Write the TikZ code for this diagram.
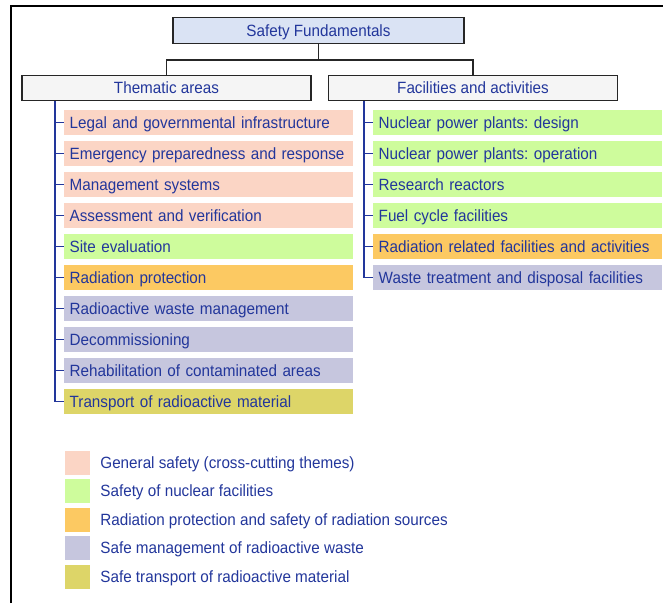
\documentclass[tikz,border=0pt]{standalone}
\usepackage{fontspec}
\setmainfont{Liberation Sans}[FakeStretch=0.935]
\usetikzlibrary{positioning}
\frenchspacing

\definecolor{sfblue}{RGB}{34,54,155}
\definecolor{general}{RGB}{251,213,197}
\definecolor{nuclear}{RGB}{206,252,156}
\definecolor{radprot}{RGB}{252,201,98}
\definecolor{waste}{RGB}{198,198,222}
\definecolor{transport}{RGB}{221,213,104}
\definecolor{topfill}{RGB}{218,227,244}

\tikzset{
  every node/.style={text height=13.6pt, text depth=2pt},
  head/.style={draw=black!85, line width=1.8pt, fill=gray!8, minimum width=289pt,
    minimum height=25pt, inner sep=0pt, text=sfblue},
  item/.style={anchor=west, inner xsep=5.5pt, inner ysep=0pt, text width=278pt,
    minimum height=25pt, align=left, text=sfblue},
  key/.style={minimum width=25pt, minimum height=24pt, inner sep=0pt},
  keytext/.style={anchor=west, inner sep=0pt, text=sfblue},
  branch/.style={draw=sfblue, line width=1.9pt},
}

\begin{document}
\begin{tikzpicture}[x=1pt,y=-1pt,font=\fontsize{16.3}{19}\selectfont]
  \useasboundingbox (0,0) rectangle (663,603);
  % frame
  \draw[line width=1.6pt] (11,603) -- (11,6) -- (663,6);

  % top of the hierarchy
  \node[head, fill=topfill, minimum width=291pt, minimum height=26pt] (safety) at (318.5,30.5) {Safety Fundamentals};
  \node[head] (thematic) at (166.5,88) {Thematic areas};
  \node[head] (facilities) at (473,88) {Facilities and activities};
  \coordinate (split) at (318.5,60);
  \draw[line width=1.8pt, black!85] (safety) -- (split);
  \draw[line width=1.8pt, black!85] (split) -| (thematic);
  \draw[line width=1.8pt, black!85] (split) -| (facilities);

  % thematic areas
  \node[item, fill=general] (l1) at (64,122.5) {Legal and governmental infrastructure};
  \node[item, fill=general] (l2) at (64,153.5) {Emergency preparedness and response};
  \node[item, fill=general] (l3) at (64,184.5) {Management systems};
  \node[item, fill=general] (l4) at (64,215.5) {Assessment and verification};
  \node[item, fill=nuclear] (l5) at (64,246.5) {Site evaluation};
  \node[item, fill=radprot] (l6) at (64,277.5) {Radiation protection};
  \node[item, fill=waste] (l7) at (64,308.5) {Radioactive waste management};
  \node[item, fill=waste] (l8) at (64,339.5) {Decommissioning};
  \node[item, fill=waste] (l9) at (64,370.5) {Rehabilitation of contaminated areas};
  \node[item, fill=transport] (l10) at (64,401.5) {Transport of radioactive material};

  % facilities and activities
  \node[item, fill=nuclear] (r1) at (373,122.5) {Nuclear power plants: design};
  \node[item, fill=nuclear] (r2) at (373,153.5) {Nuclear power plants: operation};
  \node[item, fill=nuclear] (r3) at (373,184.5) {Research reactors};
  \node[item, fill=nuclear] (r4) at (373,215.5) {Fuel cycle facilities};
  \node[item, fill=radprot] (r5) at (373,246.5) {Radiation related facilities and activities};
  \node[item, fill=waste] (r6) at (373,277.5) {Waste treatment and disposal facilities};

  \foreach \i in {1,...,10}
    \draw[branch] (thematic.south -| 55,0) |- (l\i.west);
  \foreach \i in {1,...,6}
    \draw[branch] (facilities.south -| 364,0) |- (r\i.west);

  % legend
  \node[key, fill=general] (key1) at (77.5,462.5) {};
  \node[key, fill=nuclear] (key2) at (77.5,491) {};
  \node[key, fill=radprot] (key3) at (77.5,520) {};
  \node[key, fill=waste] (key4) at (77.5,548) {};
  \node[key, fill=transport] (key5) at (77.5,577) {};
  \node[keytext, right=10pt of key1] {General safety (cross-cutting themes)};
  \node[keytext, right=10pt of key2] {Safety of nuclear facilities};
  \node[keytext, right=10pt of key3] {Radiation protection and safety of radiation sources};
  \node[keytext, right=10pt of key4] {Safe management of radioactive waste};
  \node[keytext, right=10pt of key5] {Safe transport of radioactive material};
\end{tikzpicture}
\end{document}
